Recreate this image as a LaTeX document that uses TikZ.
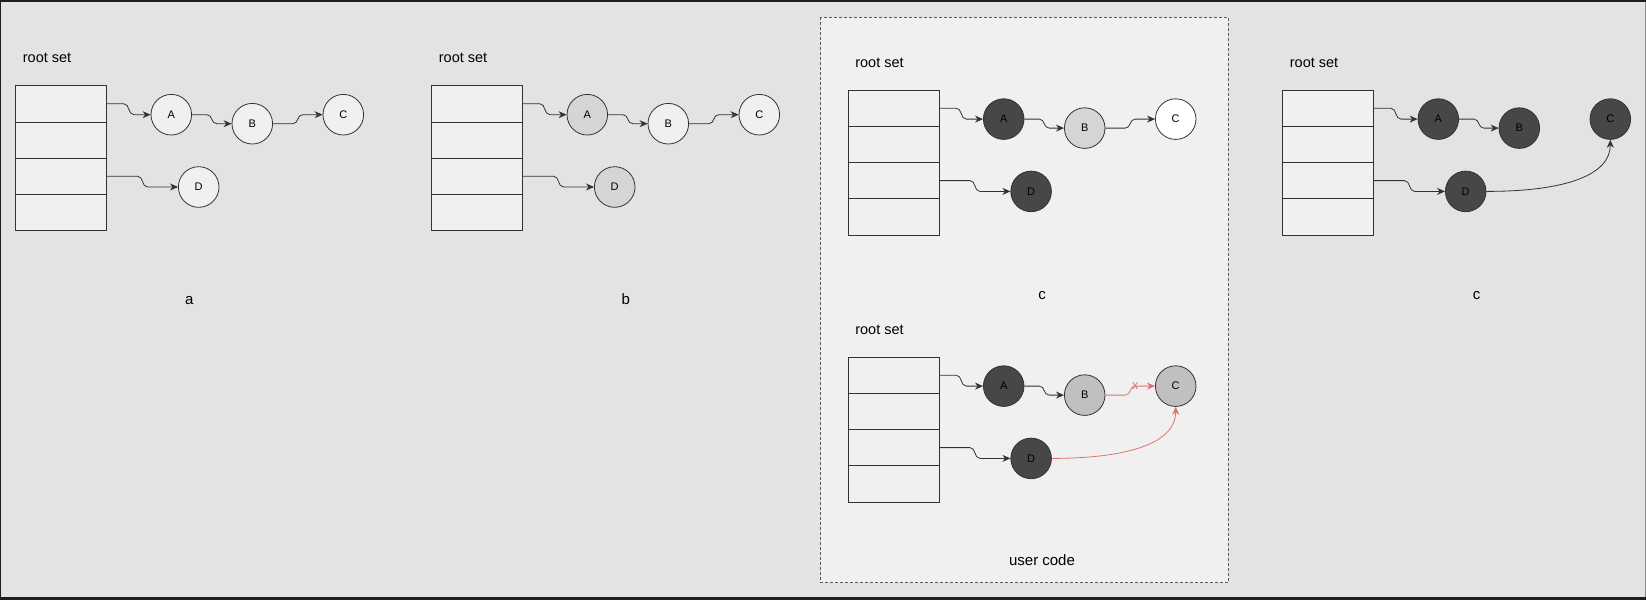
\documentclass[tikz,border=0pt]{standalone}
\usepackage{fontspec}
\setmainfont{Liberation Sans}
\usetikzlibrary{calc,arrows.meta}

\definecolor{bggray}{HTML}{E2E3E5}
\definecolor{framedark}{HTML}{1E1E1E}
\definecolor{frameside}{HTML}{8C8C8C}
\definecolor{boxfill}{HTML}{F0F0F0}
\definecolor{linegray}{HTML}{333333}
\definecolor{objlight}{HTML}{F0F0F0}
\definecolor{objwhite}{HTML}{FFFFFF}
\definecolor{objgray}{HTML}{D5D5D5}
\definecolor{objmid}{HTML}{C0C0C0}
\definecolor{objdark}{HTML}{474747}
\definecolor{linkred}{HTML}{E07272}

\tikzset{cell/.style={
  draw=linegray,
  fill=boxfill,
  line width=.8pt,
  anchor=north west,
  inner sep=0pt,
  minimum width=91pt,
  minimum height=36.2pt}}
\tikzset{obj/.style={
  draw=linegray,
  circle,
  line width=.8pt,
  inner sep=0pt,
  minimum size=40.6pt,
  font=\fontsize{11}{13}\selectfont}}
\tikzset{link/.style={
  draw=linegray,
  line width=.8pt,
  -{Stealth[length=8pt,width=7pt]},
  to path={let \p1=(\tikztostart), \p2=(\tikztotarget), \n1={0.5*(\x1+\x2)} in
    -- ({\n1*1pt-5pt},\y1)
    .. controls ({\n1*1pt+1pt},\y1) and ({\n1*1pt-1pt},\y2) .. ({\n1*1pt+5pt},\y2)
    -- (\p2) \tikztonodes}}}

\begin{document}
\begin{tikzpicture}[
  x=1pt,y=-1pt,
  rootlabel/.style={anchor=west,inner sep=0pt,font=\fontsize{14.5}{17}\selectfont},
  caption/.style={inner sep=0pt,font=\fontsize{15}{18}\selectfont},
  arc/.style={draw=linegray,line width=.8pt,-{Stealth[length=8pt,width=7pt]}}
]

  %%%% Frame and background %%%%
  \fill[framedark] (0,0) rectangle (1646,600);
  \fill[frameside] (1,2) rectangle (1646,597);
  \fill[bggray] (1,2) rectangle (1644.5,597);
  \useasboundingbox (0,0) rectangle (1646,600);

  %% Dashed box round the user code panels
  \draw[linegray!80,fill=boxfill,line width=.8pt,dash pattern=on 3pt off 2pt]
    (820.7,17.3) rectangle (1228.3,582.7);

  %%%% One root set with its objects per panel %%%%
  \foreach \pan/\px/\py/\fa/\fb/\fc/\fd in {
      a/15.3/85.3/objlight/objlight/objlight/objlight,
      b/431.3/85.3/objgray/objlight/objlight/objgray,
      c/847.7/89.7/objdark/objgray/objwhite/objdark,
      e/847.7/356.7/objdark/objmid/objmid/objdark,
      d/1282.3/89.7/objdark/objdark/objdark/objdark}{
    \begin{scope}[shift={(\px,\py)}]
      \node[rootlabel] (\pan-title) at (7.4,-27.3) {root set};
      %% Stack of roots
      \foreach \r in {1,...,4}{
        \node[cell] (\pan-r\r) at (0,{36.2*(\r-1)}) {};
      }
      %% Heap objects
      \node[obj,fill=\fa] (\pan-A) at (156,29.4) {A};
      \node[obj,fill=\fb] (\pan-B) at (237,38.4) {B};
      \node[obj,fill=\fc] (\pan-C) at (328,29.4) {C};
      \node[obj,fill=\fd] (\pan-D) at (183.4,101.7) {D};
      \draw[link] (\pan-r1.east) to (\pan-A.west);
      \draw[link] (\pan-A.east) to (\pan-B.west);
      \draw[link] (\pan-r3.east) to (\pan-D.west);
    \end{scope}
  }

  %% B -> C where it still holds
  \foreach \pan in {a,b,c}{
    \draw[link] (\pan-B.east) to (\pan-C.west);
  }
  \draw[link,draw=linkred,-{Stealth[length=8pt,width=7pt,fill=linkred]}]
    (e-B.east) to node[pos=0,text=linkred,inner sep=0pt,font=\fontsize{12.5}{13}\selectfont] (e-cut) {x} (e-C.west);

  %% D -> C, the new reference
  \draw[arc] (d-D.east) .. controls ([xshift=80pt]d-D.east) and ([yshift=-35pt]d-C.south) .. (d-C.south);
  \draw[arc,draw=linkred,-{Stealth[length=8pt,width=7pt,fill=linkred]}]
    (e-D.east) .. controls ([xshift=80pt]e-D.east) and ([yshift=-35pt]e-C.south) .. (e-C.south);

  %% Captions
  \node[caption] (a-cap) at (189.3,300.5) {a};
  \node[caption] (b-cap) at (625.7,299.5) {b};
  \node[caption] (c-cap) at (1042,295.5) {c};
  \node[caption] (e-cap) at (1042,560.5) {user code};
  \node[caption] (d-cap) at (1476.7,295.5) {c};

\end{tikzpicture}
\end{document}
